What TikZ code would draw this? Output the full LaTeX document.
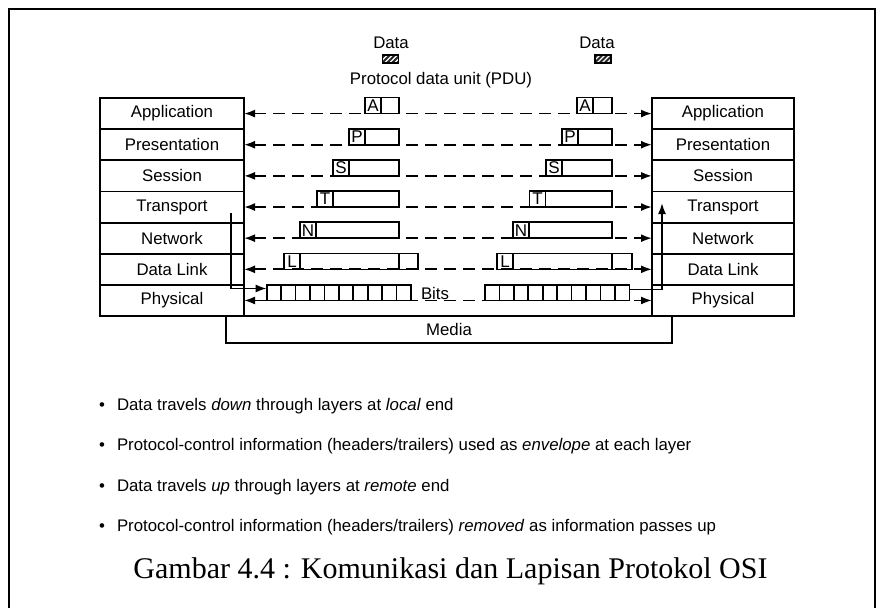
\documentclass[tikz,border=0pt]{standalone}
\usepackage{fontspec}
\setmainfont{Liberation Sans}
\newfontfamily\capfont{Liberation Serif}
\usetikzlibrary{arrows.meta}
\tikzset{
  txt/.style={font=\fontsize{16.8}{20}\selectfont, inner sep=0pt, outer sep=0pt},
  layerL/.style={txt, draw, line width=1.8pt, minimum width=144pt, minimum height=31.15pt},
  layerR/.style={layerL, minimum width=142pt},
  hdr/.style={draw, line width=1.6pt, minimum width=16pt, minimum height=16pt, inner sep=0pt, outer sep=0pt, font=\fontsize{17}{17}\selectfont, anchor=south west},
  pdubox/.style={draw, line width=1.6pt},
  tipS/.tip={Latex[length=11pt,width=8pt]},
  dashconn/.style={line width=1.8pt, dash pattern=on 12pt off 7pt, tipS-tipS},
  solidconn/.style={line width=1.8pt, -tipS},
  hatchbox/.style={draw, line width=1.2pt, fill=black!85, minimum width=16pt, minimum height=8pt, inner sep=0pt,
    path picture={
      \foreach \s in {-8,-3,2,7,12} {
        \draw[white, line width=1.1pt] ([xshift=\s pt]path picture bounding box.south west) -- ++(10pt,10pt);
      }
    }},
  bullettxt/.style={txt, anchor=base west},
}
\begin{document}
\begin{tikzpicture}[x=1pt,y=-1pt]
\useasboundingbox (0,0) rectangle (876,608);
% outer frame
\draw[line width=2pt] (9,620) -- (9,9) -- (875,9) -- (875,620);

% layer stacks
\foreach \t [count=\i] in {Application,Presentation,Session,Transport,Network,Data Link,Physical} {
  \node[layerL] (L\i) at (172, 82.425+31.15*\i) {\t};
  \node[layerR] (R\i) at (723, 82.425+31.15*\i) {\t};
}

% media
\node[txt, draw, line width=1.8pt, minimum width=446pt, minimum height=27pt] (media) at (449,329.5) {Media};

% dashed peer connectors
\foreach \i in {1,...,7} \draw[dashconn] (L\i.east) -- (R\i.west);

% PDUs
\foreach \lt/\xl/\xr [count=\i] in {A/365/577, P/349/562, S/333/546, T/317/529.5, N/300/513, L/284/497} {
  \node[hdr] (hl\i) at (\xl, 82.425+31.15*\i) {\lt};
  \draw[pdubox] (hl\i.south east) rectangle (399, 66.425+31.15*\i);
  \node[hdr] (hr\i) at (\xr, 82.425+31.15*\i) {\lt};
  \draw[pdubox] (hr\i.south east) rectangle (612, 66.425+31.15*\i);
}
% trailers of data link frames
\draw[pdubox] (399,269.325) rectangle (418,253.325);
\draw[pdubox] (612,269.325) rectangle (632,253.325);

% bits
\foreach \k in {0,...,9} {
  \draw[pdubox] (266.7+14.43*\k, 300.475) rectangle ++(14.43,-15.4);
  \draw[pdubox] (485+14.43*\k, 300.475) rectangle ++(14.43,-15.4);
}
\node[txt, anchor=base west] (bits) at (421,299) {Bits};

% vertical travel arrows
\coordinate (tstart) at (231,213);
\coordinate (bitsLin) at (266.7,288.5);
\draw[solidconn] (tstart) |- (bitsLin);
\coordinate (bitsRout) at (629.5,289.5);
\coordinate (tup) at (662,203);
\draw[solidconn] (bitsRout) -| (tup);

% data labels
\node[txt] (data1) at (391,43) {Data};
\node[hatchbox] (hatch1) at (390.5,59) {};
\node[txt] (data2) at (597,43) {Data};
\node[hatchbox] (hatch2) at (603,59) {};
\node[txt] (pdu) at (441,80) {Protocol data unit (PDU)};

% bullets
\foreach \yy/\tx [count=\i] in {
  410/{Data travels \textit{down} through layers at \textit{local} end},
  450/{Protocol-control information (headers/trailers) used as \textit{envelope} at each layer},
  491/{Data travels \textit{up} through layers at \textit{remote} end},
  531/{Protocol-control information (headers/trailers) \textit{removed} as information passes up}} {
  \node[bullettxt] (dot\i) at (99,\yy) {\textbullet};
  \node[bullettxt] (bl\i) at (117,\yy) {\tx};
}

% caption
\node[font=\capfont\fontsize{30}{36}\selectfont, inner sep=0pt, anchor=base] (cap) at (450.5,578) {Gambar 4.4 : Komunikasi dan Lapisan Protokol OSI};
\end{tikzpicture}
\end{document}
